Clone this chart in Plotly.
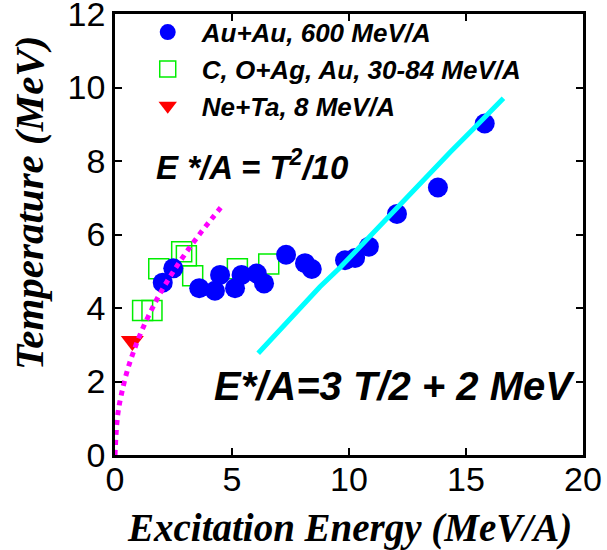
import plotly.graph_objects as go

# Au+Au, 600 MeV/A (blue circles)
auau_x = [2.04, 2.49, 3.60, 4.27, 4.49, 5.13, 5.41, 6.06, 6.37, 7.31, 8.12, 8.41, 9.83, 10.26, 10.85, 12.05, 13.80, 15.80]
auau_y = [4.69, 5.08, 4.54, 4.47, 4.90, 4.54, 4.90, 4.94, 4.67, 5.45, 5.22, 5.06, 5.30, 5.36, 5.67, 6.56, 7.28, 9.02]

# C, O+Ag, Au, 30-84 MeV/A (green open squares)
coag_x = [1.18, 1.58, 1.87, 2.85, 3.05, 3.32, 5.23, 6.57]
coag_y = [3.93, 3.93, 5.07, 5.53, 5.42, 4.88, 5.07, 5.20]

# Ne+Ta, 8 MeV/A (red triangle)
neta_x = [0.74]
neta_y = [3.10]

# Fermi-gas curve E*/A = T^2/10
fermi_x = [0.0, 0.07, 0.14, 0.28, 0.50, 0.78, 1.14, 1.71, 2.14, 2.56, 3.13, 3.70, 4.20, 4.63]
fermi_y = [0.0, 0.80, 1.20, 1.67, 2.24, 2.79, 3.38, 4.14, 4.63, 5.06, 5.59, 6.08, 6.48, 6.82]

# Classical gas line E*/A = 3T/2 + 2 MeV
gas_x = [6.12, 7.19, 8.76, 9.62, 11.32, 12.89, 14.32, 15.31, 16.60]
gas_y = [2.77, 3.49, 4.58, 5.10, 6.25, 7.28, 8.24, 8.87, 9.71]

# axis ticks
x_ticks = [0, 5, 10, 15, 20]
x_tick_labels = ["0", "5", "10", "15", "20"]
y_ticks = [0, 2, 4, 6, 8, 10, 12]
y_tick_labels = ["0", "2", "4", "6", "8", "10", "12"]

SANS = "Liberation Sans, Arial, sans-serif"
SERIF = "Liberation Serif, Times New Roman, serif"

fig = go.Figure()
fig.add_trace(go.Scatter(
    x=coag_x, y=coag_y, mode="markers", name="<b><i>C, O+Ag, Au, 30-84 MeV/A</i></b>",
    marker=dict(symbol="square-open", size=20, color="#00ee00", line=dict(width=1.5, color="#00ee00")),
    legendrank=2))
fig.add_trace(go.Scatter(
    x=auau_x, y=auau_y, mode="markers", name="<b><i>Au+Au, 600 MeV/A</i></b>",
    marker=dict(symbol="circle", size=20, color="#0000ff"), legendrank=1))
fig.add_trace(go.Scatter(
    x=neta_x, y=neta_y, mode="markers", name="<b><i>Ne+Ta, 8 MeV/A</i></b>",
    marker=dict(symbol="triangle-down", size=20, color="#ff0000"), legendrank=3))
fig.add_trace(go.Scatter(
    x=fermi_x, y=fermi_y, mode="lines", showlegend=False,
    line=dict(color="#ff00ff", width=5, dash="dot", shape="spline")))
fig.add_trace(go.Scatter(
    x=gas_x, y=gas_y, mode="lines", showlegend=False,
    line=dict(color="#00ffff", width=5)))

fig.add_annotation(x=1.68, y=7.90, xref="x", yref="y", xanchor="left", yanchor="middle",
                   text="<b><i>E */A = T<sup>2</sup>/10</i></b>", showarrow=False,
                   font=dict(family=SANS, size=33, color="black"))
fig.add_annotation(x=4.15, y=1.88, xref="x", yref="y", xanchor="left", yanchor="middle",
                   text="<b><i>E*/A=3 T/2 + 2 MeV</i></b>", showarrow=False,
                   font=dict(family=SANS, size=40, color="black"))

# axis titles placed as annotations for exact placement
fig.add_annotation(x=0.5, y=-0.166, xref="paper", yref="paper", xanchor="center", yanchor="middle",
                   text="<b><i>Excitation Energy (MeV/A)</i></b>", showarrow=False, borderpad=0,
                   font=dict(family=SERIF, size=39, color="black"))
fig.add_annotation(x=-0.184, y=0.571, xref="paper", yref="paper", xanchor="center", yanchor="middle",
                   text="<b><i>Temperature (MeV)</i></b>", showarrow=False, textangle=-90,
                   borderpad=0, font=dict(family=SERIF, size=41, color="black"))

axis_common = dict(showline=True, linewidth=2.5, linecolor="black", mirror="ticks",
                   ticks="inside", ticklen=7, tickwidth=2, tickcolor="black",
                   showgrid=False, zeroline=False, ticklabeloverflow="allow",
                   tickfont=dict(family=SANS, size=34, color="black"))

fig.update_xaxes(range=[0, 20], tickvals=x_ticks, ticktext=x_tick_labels,
                 ticklabelstandoff=-8, **axis_common)
fig.update_yaxes(range=[0, 12], tickvals=y_ticks, ticktext=y_tick_labels, **axis_common)

fig.update_layout(
    width=607, height=550,
    margin=dict(l=115, r=24, t=14, b=95, autoexpand=False),
    plot_bgcolor="white", paper_bgcolor="white",
    legend=dict(x=0.04, y=1.012, xanchor="left", yanchor="top", bgcolor="rgba(0,0,0,0)",
                font=dict(family=SANS, size=26, color="black"), itemwidth=58),
    showlegend=True,
)

# remove the browser's default 8px page margin so the figure fills the window exactly
fig.write_html("out.html", config={"displayModeBar": False},
               post_script="document.body.style.margin='0';")
